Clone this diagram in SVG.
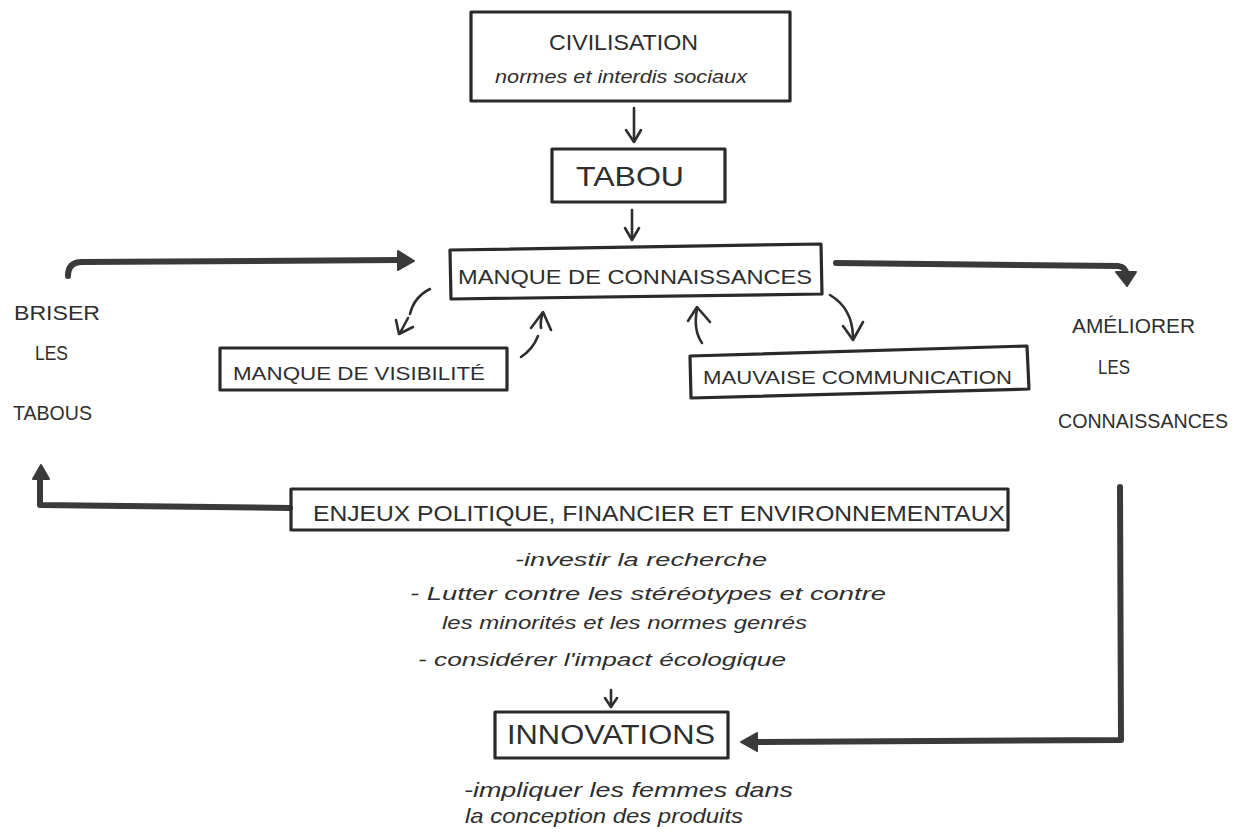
<svg xmlns="http://www.w3.org/2000/svg" width="1241" height="837" viewBox="0 0 1241 837">
<defs>
<style>
.box{fill:none;stroke:#2a2a2a;stroke-width:3.2;stroke-linejoin:round}
.cap{font-family:"Liberation Sans",Arial,sans-serif;fill:#2e2e2e;font-weight:normal}
.hand{font-family:"Liberation Sans",Arial,sans-serif;font-style:italic;fill:#2e2e2e}
.thick{fill:none;stroke:#3a3a3a;stroke-width:6;stroke-linecap:round;stroke-linejoin:round}
.thin{fill:none;stroke:#2e2e2e;stroke-width:2.6;stroke-linecap:round;stroke-linejoin:round}
.head{fill:#3a3a3a;stroke:#3a3a3a;stroke-width:2;stroke-linejoin:round}
</style>
</defs>
<rect width="1241" height="837" fill="#ffffff"/>

<g id="connectors">
  <!-- civilisation -> tabou -->
  <path class="thin" d="M634 108 L634 140"/>
  <path class="thin" d="M626 130 L634 142 L641 130"/>
  <!-- tabou -> manque -->
  <path class="thin" d="M632 210 L632 238"/>
  <path class="thin" d="M625 228 L632 240 L639 228"/>
  <!-- briser -> manque -->
  <path class="thick" d="M68 276 Q68 262 82 262 L400 260"/>
  <polygon class="head" points="398,251 414,261 398,270"/>
  <!-- manque -> ameliorer -->
  <path class="thick" d="M836 263 L1118 266 Q1126 267 1126 274"/>
  <polygon class="head" points="1116,272 1136,272 1127,286"/>
  <!-- manque -> visibilite -->
  <path class="thin" d="M430 289 Q414 297 410 314"/>
  <path class="thin" d="M408 318 L400 333"/>
  <path class="thin" d="M396 320 L399 334 L413 327"/>
  <!-- visibilite -> manque -->
  <path class="thin" d="M521 357 Q533 349 538 336"/>
  <path class="thin" d="M541 328 Q540 320 543 313"/>
  <path class="thin" d="M531 328 L543 312 L551 330"/>
  <!-- mauvaise -> manque -->
  <path class="thin" d="M702 343 Q693 330 697 309"/>
  <path class="thin" d="M688 321 L697 307 L710 322"/>
  <!-- manque -> mauvaise -->
  <path class="thin" d="M830 295 Q852 308 853 336"/>
  <path class="thin" d="M843 326 L853 340 L863 322"/>
  <!-- enjeux -> briser -->
  <path class="thick" d="M290 508 L40 505 L40 478"/>
  <polygon class="head" points="33,479 41,465 49,479"/>
  <!-- ameliorer -> innovations -->
  <path class="thick" d="M1120 487 L1121 740 L756 742"/>
  <polygon class="head" points="757,733 741,742 757,751"/>
  <!-- actions -> innovations -->
  <path class="thin" d="M611 690 L611 705"/>
  <path class="thin" d="M605 698 L611 707 L617 698"/>
</g>

<g id="node-civilisation">
  <rect class="box" x="471" y="12" width="319" height="89"/>
  <text class="cap" x="549" y="50" font-size="22" textLength="149" lengthAdjust="spacingAndGlyphs">CIVILISATION</text>
  <text class="hand" x="495" y="83" font-size="18" textLength="252" lengthAdjust="spacingAndGlyphs">normes et interdis sociaux</text>
</g>

<g id="node-tabou">
  <rect class="box" x="552" y="149" width="173" height="53"/>
  <text class="cap" x="576" y="186" font-size="28" textLength="108" lengthAdjust="spacingAndGlyphs">TABOU</text>
</g>

<g id="node-manque-connaissances">
  <polygon class="box" points="450,250 821,244 822,294 451,299"/>
  <text class="cap" x="458" y="284" font-size="21" textLength="354" lengthAdjust="spacingAndGlyphs">MANQUE DE CONNAISSANCES</text>
</g>

<g id="node-visibilite">
  <rect class="box" x="220" y="348" width="287" height="42"/>
  <text class="cap" x="233" y="380" font-size="18" textLength="252" lengthAdjust="spacingAndGlyphs">MANQUE DE VISIBILITÉ</text>
</g>

<g id="node-mauvaise">
  <polygon class="box" points="690,356 1027,346 1029,389 691,398"/>
  <text class="cap" x="703" y="384" font-size="19" textLength="309" lengthAdjust="spacingAndGlyphs">MAUVAISE COMMUNICATION</text>
</g>

<g id="node-briser">
  <text class="cap" x="14" y="320" font-size="21" textLength="86" lengthAdjust="spacingAndGlyphs">BRISER</text>
  <text class="cap" x="35" y="360" font-size="21" textLength="33" lengthAdjust="spacingAndGlyphs">LES</text>
  <text class="cap" x="13" y="420" font-size="21" textLength="79" lengthAdjust="spacingAndGlyphs">TABOUS</text>
</g>

<g id="node-ameliorer">
  <text class="cap" x="1072" y="333" font-size="20" textLength="123" lengthAdjust="spacingAndGlyphs">AMÉLIORER</text>
  <text class="cap" x="1098" y="374" font-size="20" textLength="32" lengthAdjust="spacingAndGlyphs">LES</text>
  <text class="cap" x="1058" y="428" font-size="20" textLength="170" lengthAdjust="spacingAndGlyphs">CONNAISSANCES</text>
</g>

<g id="node-enjeux">
  <rect class="box" x="291" y="489" width="717" height="41"/>
  <text class="cap" x="313" y="521" font-size="22" textLength="692" lengthAdjust="spacingAndGlyphs">ENJEUX POLITIQUE, FINANCIER ET ENVIRONNEMENTAUX</text>
</g>

<g id="node-actions">
  <text class="hand" x="515" y="566" font-size="19" textLength="252" lengthAdjust="spacingAndGlyphs">-investir la recherche</text>
  <text class="hand" x="410" y="600" font-size="19" textLength="476" lengthAdjust="spacingAndGlyphs">- Lutter contre les stéréotypes et contre</text>
  <text class="hand" x="442" y="629" font-size="19" textLength="365" lengthAdjust="spacingAndGlyphs">les minorités et les normes genrés</text>
  <text class="hand" x="418" y="666" font-size="19" textLength="368" lengthAdjust="spacingAndGlyphs">- considérer l'impact écologique</text>
</g>

<g id="node-innovations">
  <rect class="box" x="495" y="712" width="233" height="46"/>
  <text class="cap" x="507" y="744" font-size="27" textLength="208" lengthAdjust="spacingAndGlyphs">INNOVATIONS</text>
</g>

<g id="node-impliquer">
  <text class="hand" x="464" y="797" font-size="21" textLength="329" lengthAdjust="spacingAndGlyphs">-impliquer les femmes dans</text>
  <text class="hand" x="465" y="823" font-size="21" textLength="278" lengthAdjust="spacingAndGlyphs">la conception des produits</text>
</g>
</svg>
